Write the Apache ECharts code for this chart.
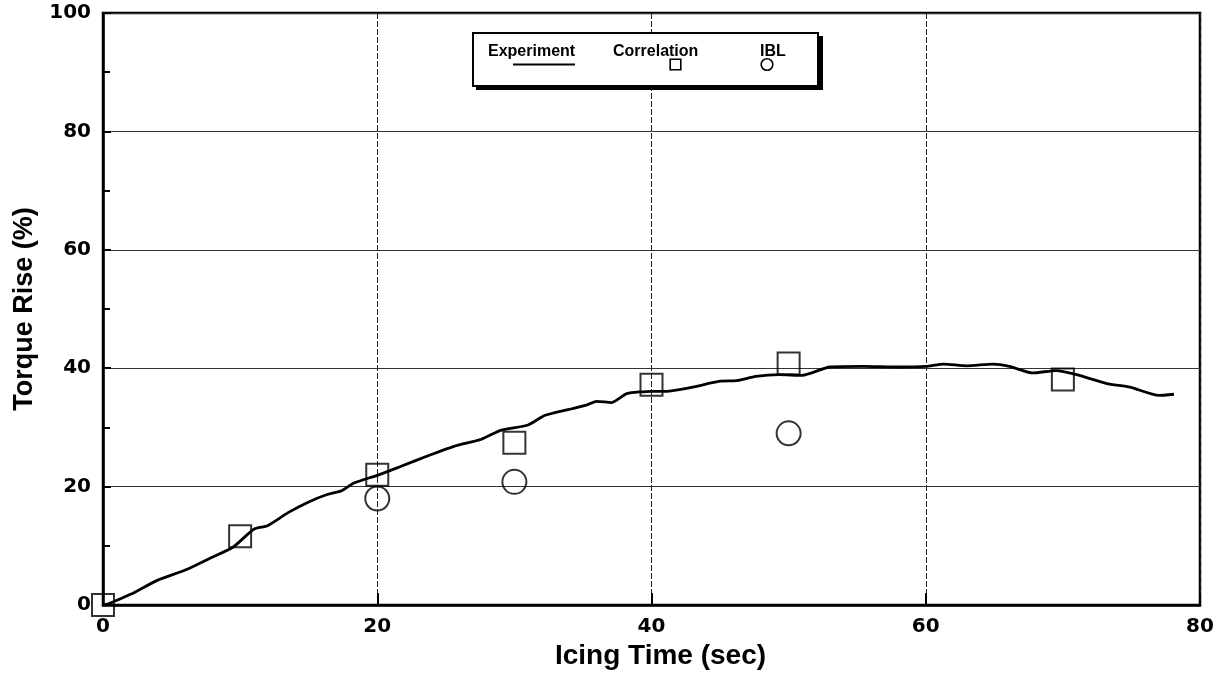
<!DOCTYPE html>
<html>
<head>
<meta charset="utf-8">
<script src="https://cdn.jsdelivr.net/npm/echarts@6/dist/echarts.min.js"></script>
<style>
html,body{margin:0;padding:0;background:#fff;}
#chart{width:1229px;height:680px;}
</style>
</head>
<body>
<div id="chart"></div>
<script>
const expTime = [0,0.5,2,4,6,8,9.5,11,12,13.5,15,16.4,17.4,18.3,20,21.7,23.7,25.6,27.6,29,31,32.2,33.9,35.3,36,37.1,38.2,40,41.1,42.8,45,46.2,47.6,49.3,51,53,55.4,58,60,61.3,63,64.9,66.1,67.8,69.5,71,73.2,74.9,77,78.1];
const expRise = [0,0.3,1.8,4.2,5.9,8.1,9.8,12.8,13.4,15.6,17.4,18.7,19.3,20.6,21.9,23.4,25.2,26.8,28.0,29.5,30.4,32.0,33.0,33.8,34.4,34.2,35.7,36.1,36.1,36.7,37.8,37.9,38.6,38.9,38.8,40.2,40.3,40.2,40.3,40.7,40.4,40.7,40.3,39.2,39.6,38.9,37.4,36.8,35.4,35.6];
// Correlation (squares)
const corrTime = [0,10,20,30,40,50,70];
const corrRise = [0,11.6,22.0,27.4,37.2,40.8,38.1];
// IBL (circles)
const iblTime = [20,30,50];
const iblRise = [18.0,20.8,29.0];
// Axis settings
const xTicks = [0,20,40,60,80];
const yTicks = [0,20,40,60,80,100];

const zip = (a,b) => a.map((v,i) => [v,b[i]]);
const chart = echarts.init(document.getElementById('chart'), null, {renderer:'canvas'});

const tickFont = {fontFamily:'DejaVu Sans', fontWeight:'bold', fontSize:20, color:'#000'};
const nameFont = {fontFamily:'Liberation Sans', fontWeight:'bold', color:'#000'};
const lgFont = {fontFamily:'Liberation Sans', fontWeight:'bold', fontSize:16, color:'#000', lineHeight:14};

chart.setOption({
  animation:false,
  backgroundColor:'#fff',
  grid:{left:103, right:29, top:13, bottom:75, show:true, borderColor:'#000', borderWidth:2.5, containLabel:false},
  graphic:[
    {type:'rect', z:1, silent:true, shape:{x:476, y:36, width:347, height:54}, style:{fill:'#000'}}
  ],
  legend:{
    left:473, top:33, z:5,
    orient:'horizontal',
    itemWidth:0, itemHeight:1, itemGap:0,
    icon:'rect',
    itemStyle:{opacity:0},
    lineStyle:{opacity:0},
    padding:[11,8,15,10],
    backgroundColor:'#fff',
    borderColor:'#000', borderWidth:2,
    selectedMode:false,
    data:['Experiment','Correlation','IBL'],
    formatter:function(name){
      if(name==='Experiment') return '{e|Experiment}\n{s1|}{ln|}';
      if(name==='Correlation') return '{c|Correlation}\n{s2|}{sq|}';
      return '{i|IBL}\n{s3|}{ci|}';
    },
    textStyle:{
      rich:{
        e:Object.assign({width:107, align:'left'}, lgFont),
        c:Object.assign({width:141, align:'left', padding:[0,0,0,12]}, lgFont),
        i:Object.assign({width:50, align:'left'}, lgFont),
        s1:{width:25, height:11, lineHeight:11},
        s2:{width:70, height:11, lineHeight:11},
        s3:{width:2, height:11, lineHeight:11},
        ln:{width:62, height:2, backgroundColor:'#000', lineHeight:11},
        sq:{width:9, height:9, borderColor:'#000', borderWidth:1.6, backgroundColor:'#fff', lineHeight:11},
        ci:{width:10, height:10, borderColor:'#000', borderWidth:1.6, borderRadius:6, backgroundColor:'#fff', lineHeight:11}
      }
    }
  },
  xAxis:{
    type:'value', min:xTicks[0], max:xTicks[xTicks.length-1], interval:20,
    name:'Icing Time (sec)', nameLocation:'middle', nameGap:31,
    nameTextStyle:Object.assign({fontSize:28, padding:[0,0,0,18]}, nameFont),
    axisLine:{show:true, onZero:false, lineStyle:{color:'#000', width:2.5}},
    axisTick:{show:true, inside:true, length:12, lineStyle:{color:'#000', width:2}},
    axisLabel:Object.assign({margin:12, showMinLabel:true, showMaxLabel:true}, tickFont),
    splitLine:{show:true, lineStyle:{color:'#222', width:1, type:[6,2]}}
  },
  yAxis:{
    type:'value', min:yTicks[0], max:yTicks[yTicks.length-1], interval:20,
    name:'Torque Rise (%)', nameLocation:'middle', nameGap:65, nameRotate:90,
    nameTextStyle:Object.assign({fontSize:27}, nameFont),
    axisLine:{show:true, onZero:false, lineStyle:{color:'#000', width:2.5}},
    axisTick:{show:true, inside:true, length:8, lineStyle:{color:'#000', width:2}},
    minorTick:{show:true, splitNumber:2, length:7, lineStyle:{color:'#000', width:2}},
    axisLabel:Object.assign({margin:12}, tickFont),
    splitLine:{show:true, lineStyle:{color:'#333', width:1}}
  },
  series:[
    {name:'Experiment', type:'line', data:zip(expTime,expRise), showSymbol:false, symbol:'none',
     smooth:0.2, lineStyle:{color:'#000', width:2.8}, itemStyle:{color:'#000'}, z:3},
    {name:'Correlation', type:'scatter', data:zip(corrTime,corrRise), symbol:'rect', symbolSize:22, clip:false,
     itemStyle:{color:'rgba(0,0,0,0)', borderColor:'#000', borderWidth:2}, z:4},
    {name:'IBL', type:'scatter', data:zip(iblTime,iblRise), symbol:'circle', symbolSize:24, clip:false,
     itemStyle:{color:'rgba(0,0,0,0)', borderColor:'#000', borderWidth:2}, z:4}
  ]
});
</script>
</body>
</html>
